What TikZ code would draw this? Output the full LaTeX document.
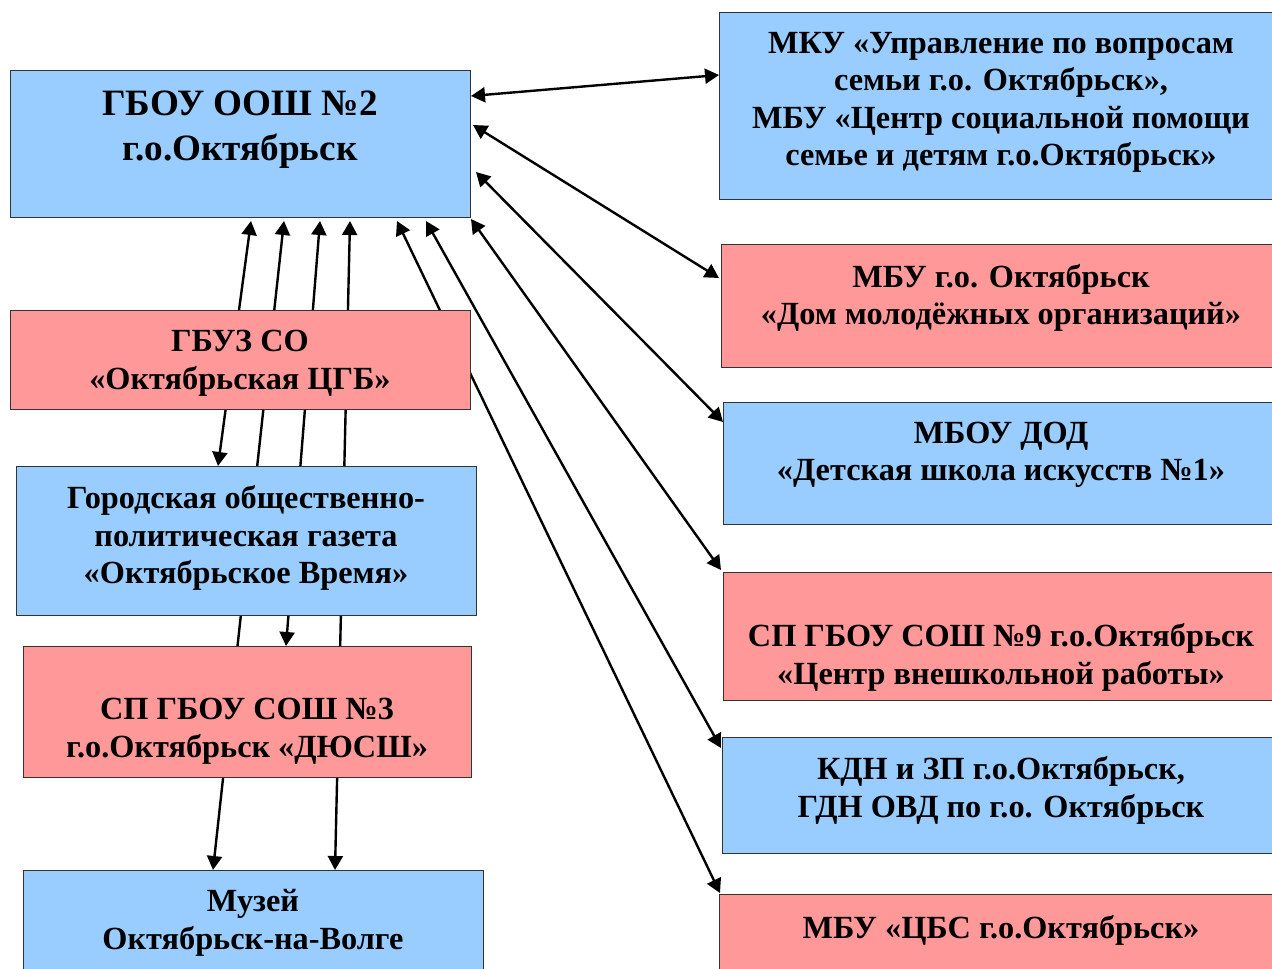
\documentclass[tikz,border=0pt]{standalone}
\usepackage{fontspec}
\setmainfont{Liberation Serif}
\usetikzlibrary{arrows.meta}
\pgfdeclarelayer{bg}
\pgfsetlayers{bg,main}
\definecolor{boxblue}{HTML}{99CCFF}
\definecolor{boxred}{HTML}{FF9999}
\tikzset{
  box/.style={draw=black!80, line width=1pt, anchor=north west, inner sep=0pt},
  bluebox/.style={box, fill=boxblue},
  redbox/.style={box, fill=boxred},
  txt/.style={align=center, font=\bfseries\fontsize{32.3}{37.5}\selectfont, inner sep=0pt},
  bigtxt/.style={align=center, font=\bfseries\fontsize{37.2}{45}\selectfont, inner sep=0pt},
  link/.style={line width=2.4pt, {Triangle[length=14pt,width=15pt]}-{Triangle[length=14pt,width=15pt]}}
}
\begin{document}
\begin{tikzpicture}[x=1pt,y=-1pt]
\useasboundingbox (0,0) rectangle (1272,969);
\clip (0,0) rectangle (1272,969);
% left column
\node[bluebox, minimum width=460pt, minimum height=147pt] (A) at (10,70) {};
\node[redbox, minimum width=460pt, minimum height=99pt] (B) at (10,310) {};
\node[bluebox, minimum width=460pt, minimum height=149pt] (C) at (16,466) {};
\node[redbox, minimum width=448pt, minimum height=131pt] (D) at (23,646) {};
\node[bluebox, minimum width=460pt, minimum height=120pt] (E) at (23,870) {};
% right column
\node[bluebox, minimum width=570pt, minimum height=187pt] (F) at (719,12) {};
\node[redbox, minimum width=570pt, minimum height=123pt] (G) at (721,244) {};
\node[bluebox, minimum width=570pt, minimum height=122pt] (H) at (723,402) {};
\node[redbox, minimum width=570pt, minimum height=128pt] (I) at (723,572) {};
\node[bluebox, minimum width=570pt, minimum height=116pt] (J) at (722,737) {};
\node[redbox, minimum width=570pt, minimum height=120pt] (K) at (719,894) {};
% texts
\node[bigtxt] (At) at (240,130) {ГБОУ ООШ №2\\г.о.Октябрьск};
\node[txt] (Bt) at (240,363) {ГБУЗ СО\\«Октябрьская ЦГБ»};
\node[txt] (Ct) at (246,538) {Городская общественно-\\политическая газета\\«Октябрьское Время»};
\node[txt] (Dt) at (247,731) {СП ГБОУ СОШ №3\\г.о.Октябрьск «ДЮСШ»};
\node[txt] (Et) at (253,923) {Музей\\Октябрьск-на-Волге};
\node[txt] (Ft) at (1001,102.5) {МКУ «Управление по вопросам\\семьи г.о. Октябрьск»,\\МБУ «Центр социальной помощи\\семье и детям г.о.Октябрьск»};
\node[txt] (Gt) at (1001,298) {МБУ г.о. Октябрьск\\«Дом молодёжных организаций»};
\node[txt] (Ht) at (1001,455) {МБОУ ДОД\\«Детская школа искусств №1»};
\node[txt] (It) at (1001,657.5) {СП ГБОУ СОШ №9 г.о.Октябрьск\\«Центр внешкольной работы»};
\node[txt] (Jt) at (1001,790.5) {КДН и ЗП г.о.Октябрьск,\\ГДН ОВД по г.о. Октябрьск};
\node[txt] (Kt) at (1001,930) {МБУ «ЦБС г.о.Октябрьск»};
% connectors
\begin{pgfonlayer}{bg}
\draw[link] ([yshift=-26pt]A.north east) -- ([yshift=-63pt]F.north west);
\draw[link] ([xshift=2pt,yshift=-55pt]A.north east) -- ([xshift=-2pt,yshift=-34pt]G.north west);
\draw[link] ([xshift=5pt,yshift=-102pt]A.north east) -- ([yshift=-20pt]H.north west);
\draw[link] ([yshift=-1pt]A.south east) -- ([xshift=-2pt,yshift=2pt]I.north west);
\draw[link] ([xshift=416pt,yshift=-3pt]A.south west) -- ([xshift=-1pt,yshift=-11pt]J.north west);
\draw[link] ([xshift=387pt,yshift=-3pt]A.south west) -- ([xshift=1pt,yshift=1pt]K.north west);
\draw[link] ([xshift=241pt,yshift=-3pt]A.south west) -- ([xshift=202pt]C.north west);
\draw[link] ([xshift=274pt,yshift=-3pt]A.south west) -- ([xshift=190pt]E.north west);
\draw[link] ([xshift=310pt,yshift=-3pt]A.south west) -- ([xshift=263pt]D.north west);
\draw[link] ([xshift=340pt,yshift=-3pt]A.south west) -- ([xshift=312pt]E.north west);
\end{pgfonlayer}
\end{tikzpicture}
\end{document}
